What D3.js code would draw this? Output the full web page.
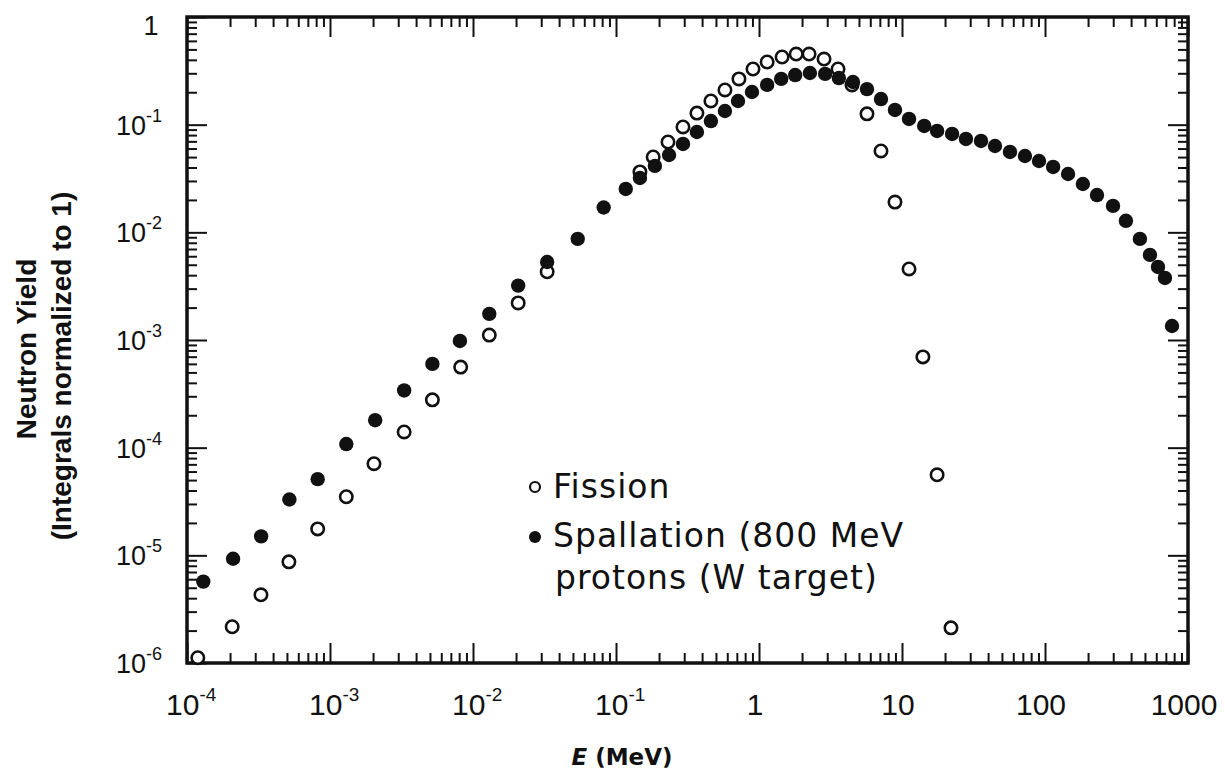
<!DOCTYPE html>
<html>
<head>
<meta charset="utf-8">
<script src="https://cdn.jsdelivr.net/npm/d3@7"></script>
<style>
  html, body { margin: 0; padding: 0; background: #fff; }
  svg { display: block; }
</style>
</head>
<body>
<svg id="chart" width="1225" height="776"></svg>
<script>
// ---- data ----
const spallE = [1.3e-4, 2.1e-4, 3.3e-4, 5.2e-4, 8.2e-4, 1.3e-3, 2.07e-3, 3.3e-3, 5.2e-3, 8.1e-3,
  1.3e-2, 2.07e-2, 3.3e-2, 5.4e-2, 8.2e-2, 0.117, 0.147, 0.187, 0.235, 0.294,
  0.368, 0.461, 0.578, 0.713, 0.893, 1.14, 1.43, 1.79, 2.27, 2.90,
  3.62, 4.54, 5.69, 7.13, 8.93, 11.2, 14.3, 17.6, 22.4, 28.0,
  35.7, 44.7, 56.9, 72.4, 90.8, 114, 145, 184, 231, 299,
  368, 461, 542, 617, 690, 773];
const spallY = [5.7e-6, 9.3e-6, 1.5e-5, 3.3e-5, 5.1e-5, 1.08e-4, 1.8e-4, 3.4e-4, 6.0e-4, 9.8e-4,
  1.75e-3, 3.2e-3, 5.3e-3, 8.7e-3, 1.7e-2, 0.0253, 0.032, 0.0414, 0.0523, 0.0662,
  0.0855, 0.108, 0.134, 0.166, 0.201, 0.234, 0.266, 0.289, 0.302, 0.296,
  0.271, 0.249, 0.214, 0.173, 0.137, 0.113, 0.0973, 0.0874, 0.082, 0.0737,
  0.0706, 0.0634, 0.0558, 0.0512, 0.046, 0.0405, 0.0348, 0.0281, 0.0222, 0.0176,
  0.0128, 0.00869, 0.00617, 0.00477, 0.00377, 0.00135];

const fissE = [1.19e-4, 2.07e-4, 3.29e-4, 5.16e-4, 8.2e-4, 1.3e-3, 2.03e-3, 3.3e-3, 5.2e-3, 8.2e-3,
  1.3e-2, 2.07e-2, 3.3e-2, 0.147, 0.182, 0.231, 0.294, 0.368, 0.461, 0.578,
  0.724, 0.908, 1.14, 1.45, 1.82, 2.24, 2.85, 3.57, 4.47, 5.69,
  7.13, 8.93, 11.2, 14.0, 17.6, 22.0];
const fissY = [1.12e-6, 2.17e-6, 4.3e-6, 8.7e-6, 1.76e-5, 3.5e-5, 7.1e-5, 1.4e-4, 2.78e-4, 5.6e-4,
  1.11e-3, 2.21e-3, 4.3e-3, 0.0364, 0.0501, 0.069, 0.0952, 0.128, 0.166, 0.210,
  0.266, 0.329, 0.382, 0.425, 0.453, 0.453, 0.407, 0.329, 0.234, 0.126,
  0.057, 0.0191, 0.00457, 6.97e-4, 5.6e-5, 2.12e-6];

const xTickValues = [1e-4, 1e-3, 1e-2, 1e-1, 1, 10, 100, 1000];
const xTickBase = ["10", "10", "10", "10", "1", "10", "100", "1000"];
const xTickExp  = ["-4", "-3", "-2", "-1", "", "", "", ""];
const yTickValues = [1, 1e-1, 1e-2, 1e-3, 1e-4, 1e-5, 1e-6];
const yTickBase = ["1", "10", "10", "10", "10", "10", "10"];
const yTickExp  = ["", "-1", "-2", "-3", "-4", "-5", "-6"];

const legendLabels = ["Fission", "Spallation (800 MeV", "protons (W target)"];
const yTitle = ["Neutron Yield", "(Integrals normalized to 1)"];

// ---- layout ----
const svg = d3.select("#chart");
const L = 187, R = 1188, T = 17, B = 663;
const x = d3.scaleLog().domain([1e-4, 1000]).range([L, R]);
const y = d3.scaleLog().domain([1e-6, 1]).range([B, T]);

const minorX = [], minorY = [];
for (let e = -4; e < 3; e++) for (let m = 2; m <= 9; m++) minorX.push(m * Math.pow(10, e));
for (let e = -6; e < 0; e++) for (let m = 2; m <= 9; m++) minorY.push(m * Math.pow(10, e));

function styleAxis(g) {
  g.select(".domain").remove();
  g.selectAll(".tick line").attr("stroke", "#111").attr("stroke-width", 2);
  g.selectAll(".tick text").remove();
}
const MAJ = 20, MIN = 10;
// bottom
svg.append("g").attr("transform", `translate(0,${B})`).call(d3.axisBottom(x).tickValues(xTickValues).tickSize(-MAJ)).call(styleAxis);
svg.append("g").attr("transform", `translate(0,${B})`).call(d3.axisBottom(x).tickValues(minorX).tickSize(-MIN)).call(styleAxis);
// top
svg.append("g").attr("transform", `translate(0,${T})`).call(d3.axisTop(x).tickValues(xTickValues).tickSize(-MAJ)).call(styleAxis);
svg.append("g").attr("transform", `translate(0,${T})`).call(d3.axisTop(x).tickValues(minorX).tickSize(-MIN)).call(styleAxis);
// left
svg.append("g").attr("transform", `translate(${L},0)`).call(d3.axisLeft(y).tickValues(yTickValues).tickSize(-MAJ)).call(styleAxis);
svg.append("g").attr("transform", `translate(${L},0)`).call(d3.axisLeft(y).tickValues(minorY).tickSize(-MIN)).call(styleAxis);
// right
svg.append("g").attr("transform", `translate(${R},0)`).call(d3.axisRight(y).tickValues(yTickValues).tickSize(-MAJ)).call(styleAxis);
svg.append("g").attr("transform", `translate(${R},0)`).call(d3.axisRight(y).tickValues(minorY).tickSize(-MIN)).call(styleAxis);

// frame
svg.append("rect").attr("x", L).attr("y", T).attr("width", R - L).attr("height", B - T)
  .attr("fill", "none").attr("stroke", "#111").attr("stroke-width", 3.5);

// x tick labels
const xl = svg.append("g").attr("font-family", "Liberation Sans, Arial, sans-serif").attr("fill", "#111");
xTickValues.forEach((v, i) => {
  const t = xl.append("text").attr("y", 715).attr("font-size", 30);
  if (xTickExp[i]) {
    t.attr("x", x(v) - 21).attr("text-anchor", "start");
    t.append("tspan").text(xTickBase[i]);
    t.append("tspan").attr("dy", -14).attr("font-size", 19).text(xTickExp[i]);
  } else {
    t.attr("x", x(v) - 4).attr("text-anchor", "middle").text(xTickBase[i]);
  }
});

// y tick labels
const yl = svg.append("g").attr("font-family", "Liberation Sans, Arial, sans-serif").attr("fill", "#111");
yTickValues.forEach((v, i) => {
  const t = yl.append("text").attr("y", y(v) + 10).attr("font-size", 27);
  if (yTickExp[i]) {
    t.attr("x", 116).attr("text-anchor", "start");
    t.append("tspan").text(yTickBase[i]);
    t.append("tspan").attr("dy", -13).attr("font-size", 18).text(yTickExp[i]);
  } else {
    t.attr("x", 151).attr("y", y(v) + 18).attr("text-anchor", "middle").text(yTickBase[i]);
  }
});

// axis titles
const xt = svg.append("text").attr("x", 622).attr("y", 765).attr("text-anchor", "middle")
  .attr("font-family", "DejaVu Sans, sans-serif").attr("font-weight", "bold").attr("font-size", 23).attr("fill", "#111");
xt.append("tspan").attr("font-style", "italic").text("E");
xt.append("tspan").text(" (MeV)");

const ytg = svg.append("g").attr("transform", "rotate(-90)")
  .attr("font-family", "Liberation Sans, Arial, sans-serif").attr("font-weight", "bold").attr("font-size", 28).attr("fill", "#111");
ytg.append("text").attr("x", -349).attr("y", 36).attr("text-anchor", "middle").text(yTitle[0]);
ytg.append("text").attr("x", -366).attr("y", 71).attr("text-anchor", "middle").text(yTitle[1]);

// data
const fission = fissE.map((e, i) => ({ e, v: fissY[i] }));
const spall = spallE.map((e, i) => ({ e, v: spallY[i] }));

svg.append("g").selectAll("circle").data(fission).join("circle")
  .attr("cx", d => x(d.e)).attr("cy", d => y(d.v)).attr("r", 6.2)
  .attr("fill", "#fff").attr("stroke", "#111").attr("stroke-width", 2.6);
svg.append("g").selectAll("circle").data(spall).join("circle")
  .attr("cx", d => x(d.e)).attr("cy", d => y(d.v)).attr("r", 7.2)
  .attr("fill", "#111");

// legend
const lg = svg.append("g").attr("font-family", "DejaVu Sans, sans-serif").attr("font-size", 33)
  .attr("letter-spacing", 1).attr("fill", "#111");
lg.append("circle").attr("cx", 535).attr("cy", 487).attr("r", 5).attr("fill", "#fff").attr("stroke", "#111").attr("stroke-width", 2.2);
lg.append("circle").attr("cx", 535).attr("cy", 537).attr("r", 6).attr("fill", "#111");
lg.append("text").attr("x", 553).attr("y", 498).text(legendLabels[0]);
lg.append("text").attr("x", 553).attr("y", 547).text(legendLabels[1]);
lg.append("text").attr("x", 555).attr("y", 589).text(legendLabels[2]);
</script>
</body>
</html>
